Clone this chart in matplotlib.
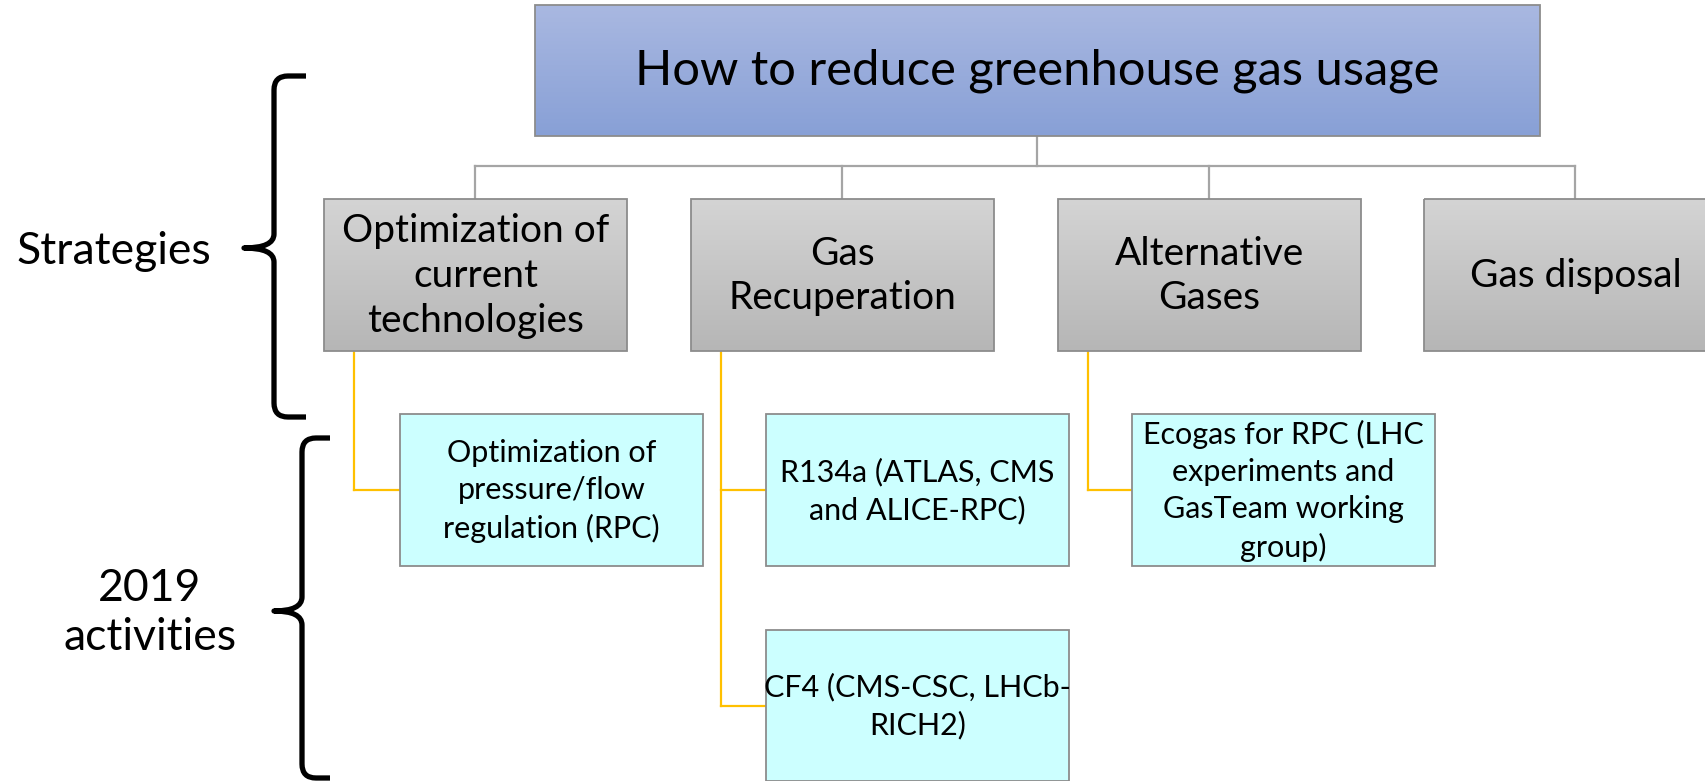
import matplotlib
matplotlib.use("Agg")
from matplotlib import pyplot as plt
from matplotlib.path import Path
from matplotlib.patches import PathPatch, Rectangle
import numpy as np

plt.rcParams['font.family'] = ['Lato', 'DejaVu Sans']

# text content
title = "How to reduce greenhouse gas usage"
strategies = ["Optimization of\ncurrent\ntechnologies", "Gas\nRecuperation",
              "Alternative\nGases", "Gas disposal"]
activities = ["Optimization of\npressure/flow\nregulation (RPC)",
              "R134a (ATLAS, CMS\nand ALICE-RPC)",
              "Ecogas for RPC (LHC\nexperiments and\nGasTeam working\ngroup)",
              "CF4 (CMS-CSC, LHCb-\nRICH2)"]
activity_parent = [0, 1, 2, 1]
side_labels = ["Strategies", "2019\nactivities"]

# layout (pixels, y down)
W, H = 1706, 781
title_box = (535, 5, 1540, 136)
strat_x = [324, 691, 1058, 1424]
strat_w = 303
strat_y = (199, 351)
act_x = [400, 766, 1132, 766]
act_w = 303
act_y = [(414, 566), (414, 566), (414, 566), (630, 781)]
bus_y = 166
yellow_x = [354, 721, 1088]

grey_line = '#a5a5a5'
yellow = '#ffc000'
edge = '#8c8c8c'

fig = plt.figure(figsize=(W / 100, H / 100), dpi=100)
ax = fig.add_axes([0, 0, 1, 1])
ax.set_xlim(0, W)
ax.set_ylim(H, 0)
ax.axis('off')


def grad_box(x0, y0, x1, y1, c_top, c_bot, z=2):
    top = np.array(matplotlib.colors.to_rgb(c_top))
    bot = np.array(matplotlib.colors.to_rgb(c_bot))
    t = np.linspace(0, 1, 64)[:, None, None]
    img = top[None, None, :] * (1 - t) + bot[None, None, :] * t
    ax.imshow(img, extent=(x0, x1, y1, y0), origin='upper', aspect='auto',
              interpolation='bilinear', zorder=z)
    ax.add_patch(Rectangle((x0, y0), x1 - x0, y1 - y0, fill=False,
                           ec=edge, lw=1.3, zorder=z + 0.1))


# connectors: title -> strategies
tcx = (title_box[0] + title_box[2]) / 2
ax.plot([tcx, tcx], [title_box[3], bus_y], color=grey_line, lw=1.6, zorder=1)
centers = [x + strat_w / 2 for x in strat_x]
ax.plot([centers[0], centers[-1]], [bus_y, bus_y], color=grey_line, lw=1.6, zorder=1)
for c in centers:
    ax.plot([c, c], [bus_y, strat_y[0]], color=grey_line, lw=1.6, zorder=1)

# connectors: strategies -> activities
for p, yx in enumerate(yellow_x):
    kids = [i for i, q in enumerate(activity_parent) if q == p]
    if not kids:
        continue
    ymax = max((act_y[i][0] + act_y[i][1]) / 2 for i in kids)
    ax.plot([yx, yx], [strat_y[1], ymax], color=yellow, lw=1.6, zorder=1)
    for i in kids:
        ym = (act_y[i][0] + act_y[i][1]) / 2
        ax.plot([yx, act_x[i]], [ym, ym], color=yellow, lw=1.6, zorder=1)

# boxes
grad_box(*title_box, '#a9b8e1', '#88a0d6')
ax.text(tcx, (title_box[1] + title_box[3]) / 2, title, ha='center', va='center',
        fontsize=35.2, zorder=5)

for x, lab in zip(strat_x, strategies):
    grad_box(x, strat_y[0], x + strat_w, strat_y[1], '#d4d4d4', '#b6b6b6')
    ax.text(x + strat_w / 2, (strat_y[0] + strat_y[1]) / 2 + 1, lab, ha='center',
            va='center', fontsize=28, linespacing=1.3, zorder=5)

for x, (y0, y1), lab in zip(act_x, act_y, activities):
    ax.add_patch(Rectangle((x, y0), act_w, y1 - y0, fc='#ccffff', ec=edge,
                           lw=1.3, zorder=2))
    ax.text(x + act_w / 2, (y0 + y1) / 2 + 1, lab, ha='center', va='center',
            fontsize=22, linespacing=1.4, zorder=5)


# braces
def brace(tip, spine, point, top, bot, mid, r=14):
    verts = [(tip, top), (spine + r, top), (spine, top), (spine, top + r),
             (spine, mid - r), (spine, mid), (point, mid),
             (spine, mid), (spine, mid + r),
             (spine, bot - r), (spine, bot), (spine + r, bot), (tip, bot)]
    codes = [Path.MOVETO, Path.LINETO, Path.CURVE3, Path.CURVE3,
             Path.LINETO, Path.CURVE3, Path.CURVE3,
             Path.CURVE3, Path.CURVE3,
             Path.LINETO, Path.CURVE3, Path.CURVE3, Path.LINETO]
    ax.add_patch(PathPatch(Path(verts, codes), fill=False, lw=3.8,
                           color='black', capstyle='butt', joinstyle='round', zorder=6))


brace(306, 274, 244, 76, 417, 248)
brace(330, 302, 274, 438, 778, 611)

ax.text(114, 251, side_labels[0], ha='center', va='center', fontsize=32)
ax.text(150, 613, side_labels[1], ha='center', va='center', fontsize=32,
        linespacing=1.25)

fig.savefig('out.png', dpi=100)
